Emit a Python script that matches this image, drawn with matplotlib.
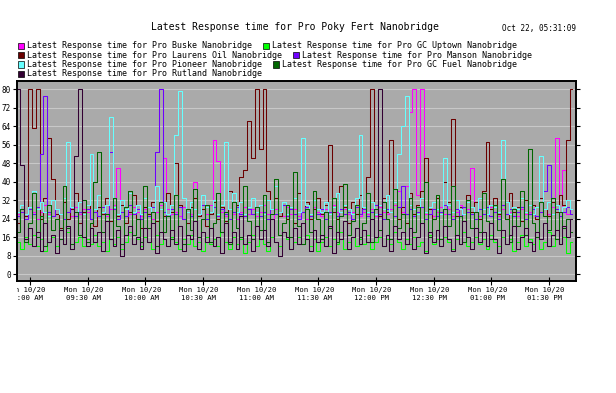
import matplotlib
matplotlib.use('Agg')
import matplotlib.pyplot as plt
import matplotlib.dates as mdates
from matplotlib.patches import Rectangle
from matplotlib.transforms import Bbox, TransformedBbox, ScaledTranslation
import pandas as pd

plt.rcParams['font.family'] = ['DejaVu Sans Mono']

W, H = 616, 393

# samples every 2 minutes, Mon 10/20 08:54 .. 13:42
times = pd.date_range('2014-10-20 08:54', periods=145, freq='2min')

names = ['Latest Response time for Pro Buske Nanobridge',
         'Latest Response time for Pro GC Uptown Nanobridge',
         'Latest Response time for Pro Laurens Oil Nanobridge',
         'Latest Response time for Pro Manson Nanobridge',
         'Latest Response time for Pro Pioneer Nanobridge',
         'Latest Response time for Pro GC Fuel Nanobridge',
         'Latest Response time for Pro Rutland Nanobridge']
colors = ['#ff00ff', '#00ff00', '#6b0000', '#7000ff', '#66ffff', '#006600', '#330033']

buske = [26, 28, 25, 29, 27, 24, 27, 30, 26, 25,
         28, 26, 31, 27, 25, 29, 26, 28, 27, 24,
         27, 29, 26, 25, 28, 30, 46, 27, 25, 26,
         29, 27, 25, 28, 26, 24, 27, 30, 50, 28,
         26, 27, 25, 29, 27, 26, 40, 25, 28, 26,
         30, 58, 49, 27, 25, 28, 26, 24, 27, 29,
         26, 28, 25, 27, 30, 26, 24, 28, 27, 25,
         29, 26, 28, 25, 27, 24, 26, 29, 27, 25,
         28, 26, 30, 27, 25, 28, 26, 27, 29, 25,
         27, 26, 28, 25, 29, 27, 26, 28, 30, 36,
         27, 38, 70, 80, 34, 80, 26, 28, 25, 27,
         29, 26, 28, 25, 27, 30, 26, 28, 46, 27,
         25, 28, 26, 29, 27, 25, 28, 26, 27, 29,
         25, 28, 26, 27, 30, 25, 27, 28, 26, 29,
         59, 27, 45, 26, 28]

gc_uptown = [14, 11, 16, 13, 17, 12, 15, 10, 14, 16,
             12, 15, 13, 18, 11, 14, 16, 12, 15, 13,
             17, 12, 14, 10, 15, 13, 16, 11, 14, 18,
             13, 15, 12, 16, 14, 11, 17, 13, 15, 12,
             16, 14, 11, 15, 13, 17, 12, 14, 10, 16,
             13, 15, 12, 18, 14, 11, 16, 13, 15, 9,
             14, 17, 12, 15, 13, 10, 16, 14, 12, 18,
             15, 11, 14, 16, 13, 17, 12, 15, 10, 14,
             16, 12, 15, 13, 18, 11, 14, 16, 12, 15,
             13, 17, 11, 14, 16, 12, 15, 13, 18, 14,
             11, 15, 13, 16, 12, 14, 10, 17, 13, 15,
             12, 16, 14, 11, 15, 13, 18, 12, 14, 16,
             13, 15, 11, 17, 14, 12, 16, 13, 15, 10,
             14, 17, 12, 15, 13, 16, 11, 14, 18, 12,
             15, 13, 16, 9, 14]

laurens = [22, 28, 25, 80, 63, 80, 24, 33, 59, 41,
           26, 20, 31, 24, 28, 35, 22, 27, 30, 24,
           21, 29, 26, 33, 23, 28, 25, 30, 22, 27,
           34, 24, 20, 29, 26, 31, 23, 28, 25, 35,
           27, 48, 30, 24, 22, 29, 33, 25, 28, 21,
           26, 31, 24, 29, 23, 36, 27, 30, 42, 45,
           66, 50, 80, 54, 80, 36, 28, 33, 25, 30,
           24, 29, 22, 35, 27, 31, 24, 28, 33, 26,
           30, 56, 27, 24, 38, 29, 22, 31, 26, 34,
           28, 42, 80, 30, 25, 33, 27, 58, 31, 24,
           29, 22, 35, 26, 30, 36, 50, 28, 24, 33,
           27, 40, 31, 67, 25, 29, 23, 34, 27, 31,
           24, 36, 57, 28, 33, 26, 30, 24, 35, 27,
           29, 23, 32, 26, 30, 24, 33, 28, 25, 31,
           27, 34, 30, 58, 80]

manson = [25, 27, 24, 28, 26, 29, 52, 77, 27, 25,
          28, 26, 24, 27, 29, 25, 27, 26, 28, 24,
          27, 25, 29, 26, 53, 28, 24, 27, 25, 30,
          26, 28, 24, 27, 25, 29, 53, 80, 27, 25,
          28, 26, 29, 24, 27, 25, 28, 26, 30, 24,
          27, 29, 25, 28, 26, 24, 27, 29, 26, 25,
          28, 26, 29, 25, 27, 24, 28, 26, 27, 30,
          25, 28, 26, 24, 27, 29, 25, 32, 26, 28,
          24, 27, 29, 25, 28, 26, 27, 24, 29, 26,
          28, 25, 27, 30, 26, 24, 28, 27, 25, 29,
          38, 26, 28, 25, 27, 29, 24, 26, 28, 25,
          27, 30, 26, 24, 28, 25, 29, 27, 26, 24,
          28, 26, 29, 25, 27, 24, 30, 26, 28, 25,
          27, 29, 24, 26, 28, 25, 27, 36, 47, 26,
          28, 25, 27, 29, 26]

pioneer = [27, 30, 26, 29, 36, 28, 31, 27, 25, 32,
           28, 26, 33, 57, 29, 27, 31, 26, 30, 52,
           28, 34, 27, 30, 68, 29, 26, 32, 28, 35,
           27, 30, 26, 33, 29, 27, 38, 28, 31, 26,
           30, 60, 79, 33, 27, 31, 28, 26, 34, 29,
           27, 32, 26, 30, 57, 28, 35, 27, 31, 26,
           29, 33, 27, 30, 26, 32, 28, 38, 27, 31,
           26, 29, 33, 27, 59, 30, 26, 32, 28, 27,
           31, 26, 29, 35, 27, 30, 28, 26, 33, 60,
           29, 27, 31, 26, 30, 28, 34, 27, 31, 52,
           64, 77, 30, 28, 26, 33, 27, 29, 31, 28,
           26, 50, 30, 27, 32, 28, 26, 31, 29, 27,
           33, 28, 26, 30, 29, 27, 58, 31, 26, 29,
           28, 33, 27, 30, 26, 29, 51, 28, 31, 26,
           30, 27, 29, 32, 28]

gc_fuel = [18, 28, 14, 22, 35, 16, 25, 12, 30, 19,
           24, 15, 38, 20, 13, 27, 17, 32, 14, 22,
           40, 53, 18, 26, 15, 33, 21, 13, 29, 36,
           17, 24, 14, 38, 20, 27, 12, 31, 18, 25,
           15, 34, 21, 13, 28, 19, 37, 16, 24, 30,
           14, 22, 35, 18, 27, 13, 31, 20, 16, 38,
           23, 15, 29, 19, 34, 14, 26, 41, 17, 22,
           30, 16, 44, 21, 13, 28, 18, 36, 24, 15,
           27, 20, 33, 14, 25, 39, 17, 23, 30, 16,
           22, 35, 14, 28, 19, 31, 24, 15, 37, 20,
           26, 13, 33, 18, 29, 22, 40, 16, 24, 34,
           15, 28, 21, 38, 17, 25, 14, 32, 20, 27,
           18, 35, 23, 15, 30, 19, 41, 24, 14, 28,
           21, 36, 17, 54, 22, 16, 31, 25, 19, 33,
           15, 27, 20, 24, 18]

rutland = [80, 47, 15, 20, 12, 18, 10, 22, 14, 17,
           9, 19, 13, 21, 11, 51, 80, 16, 12, 20,
           14, 18, 10, 23, 15, 12, 19, 8, 17, 21,
           13, 16, 11, 20, 14, 22, 9, 18, 15, 12,
           19, 13, 21, 10, 17, 15, 23, 11, 18, 14,
           20, 12, 16, 9, 22, 14, 18, 11, 25, 13,
           17, 10, 21, 15, 19, 12, 24, 14, 8, 18,
           16, 11, 20, 13, 22, 15, 10, 19, 14, 17,
           12, 21, 9, 18, 15, 23, 11, 16, 20, 13,
           19, 14, 24, 16, 80, 12, 17, 10, 21, 15,
           18, 13, 20, 11, 16, 22, 9, 18, 14, 19,
           12, 21, 15, 10, 17, 13, 23, 16, 11, 20,
           14, 18, 12, 22, 15, 9, 19, 13, 17, 21,
           11, 16, 20, 14, 10, 18, 15, 22, 12, 17,
           19, 13, 21, 16, 24]

series = [buske, gc_uptown, laurens, manson, pioneer, gc_fuel, rutland]


def fx(px):
    return px / W


def fy(py):
    return 1 - py / H


fig = plt.figure(figsize=(W / 100, H / 100), dpi=100)
ax = fig.add_axes([fx(17), fy(281), (576 - 17) / W, (281 - 81) / H])
ax.set_facecolor('#aaaaaa')

for vals, c in zip(series, colors):
    ax.plot(times, vals, color=c, lw=0.75, drawstyle='steps-mid')

ax.set_ylim(-3, 83.5)
ax.set_yticks(range(0, 81, 8))
ax.yaxis.grid(True, color='#c8c8c8', lw=0.8)
ax.set_axisbelow(True)

ax.set_xlim(pd.Timestamp('2014-10-20 08:53:15'), pd.Timestamp('2014-10-20 13:44:05'))
ticks = pd.date_range('2014-10-20 09:00', '2014-10-20 13:30', freq='30min')
ax.set_xticks(ticks)
ax.xaxis.set_major_formatter(mdates.DateFormatter('%a %m/%d\n%I:%M %p'))

ax.tick_params(axis='y', left=True, right=True, direction='out', length=3,
               width=0.8, labelsize=5.5, pad=1.5)
ax.tick_params(axis='x', direction='inout', length=6, width=0.8, labelsize=5.2, pad=1.0)
for sp in ax.spines.values():
    sp.set_linewidth(1.4)

# x labels sit a little left of their tick and are cut at the plot's left edge
clip = TransformedBbox(Bbox([[fx(17), 0], [1, 1]]), fig.transFigure)
shift = ScaledTranslation(-4 / 100, 0, fig.dpi_scale_trans)
for lab in ax.get_xticklabels():
    lab.set_linespacing(1.5)
    lab.set_transform(lab.get_transform() + shift)
    lab.set_clip_box(clip)
    lab.set_clip_on(True)

fig.text(fx(295), fy(27), 'Latest Response time for Pro Poky Fert Nanobridge',
         ha='center', va='center', fontsize=7)
fig.text(fx(576), fy(29), 'Oct 22, 05:31:09', ha='right', va='center', fontsize=5.5)

# legend written as flowing text, two entries per line
renderer = fig.canvas.get_renderer()
rows = [[0, 1], [2, 3], [4, 5], [6]]
row_y = [46, 55, 64.5, 74]
for items, y in zip(rows, row_y):
    x = 18
    for i in items:
        fig.add_artist(Rectangle((fx(x), fy(y + 3)), 6 / W, 6 / H, transform=fig.transFigure,
                                 facecolor=colors[i], edgecolor='black', lw=0.5))
        t = fig.text(fx(x + 9), fy(y), names[i], ha='left', va='center', fontsize=6.05)
        x = t.get_window_extent(renderer).x1 + 11

fig.savefig('out.png', dpi=100)
